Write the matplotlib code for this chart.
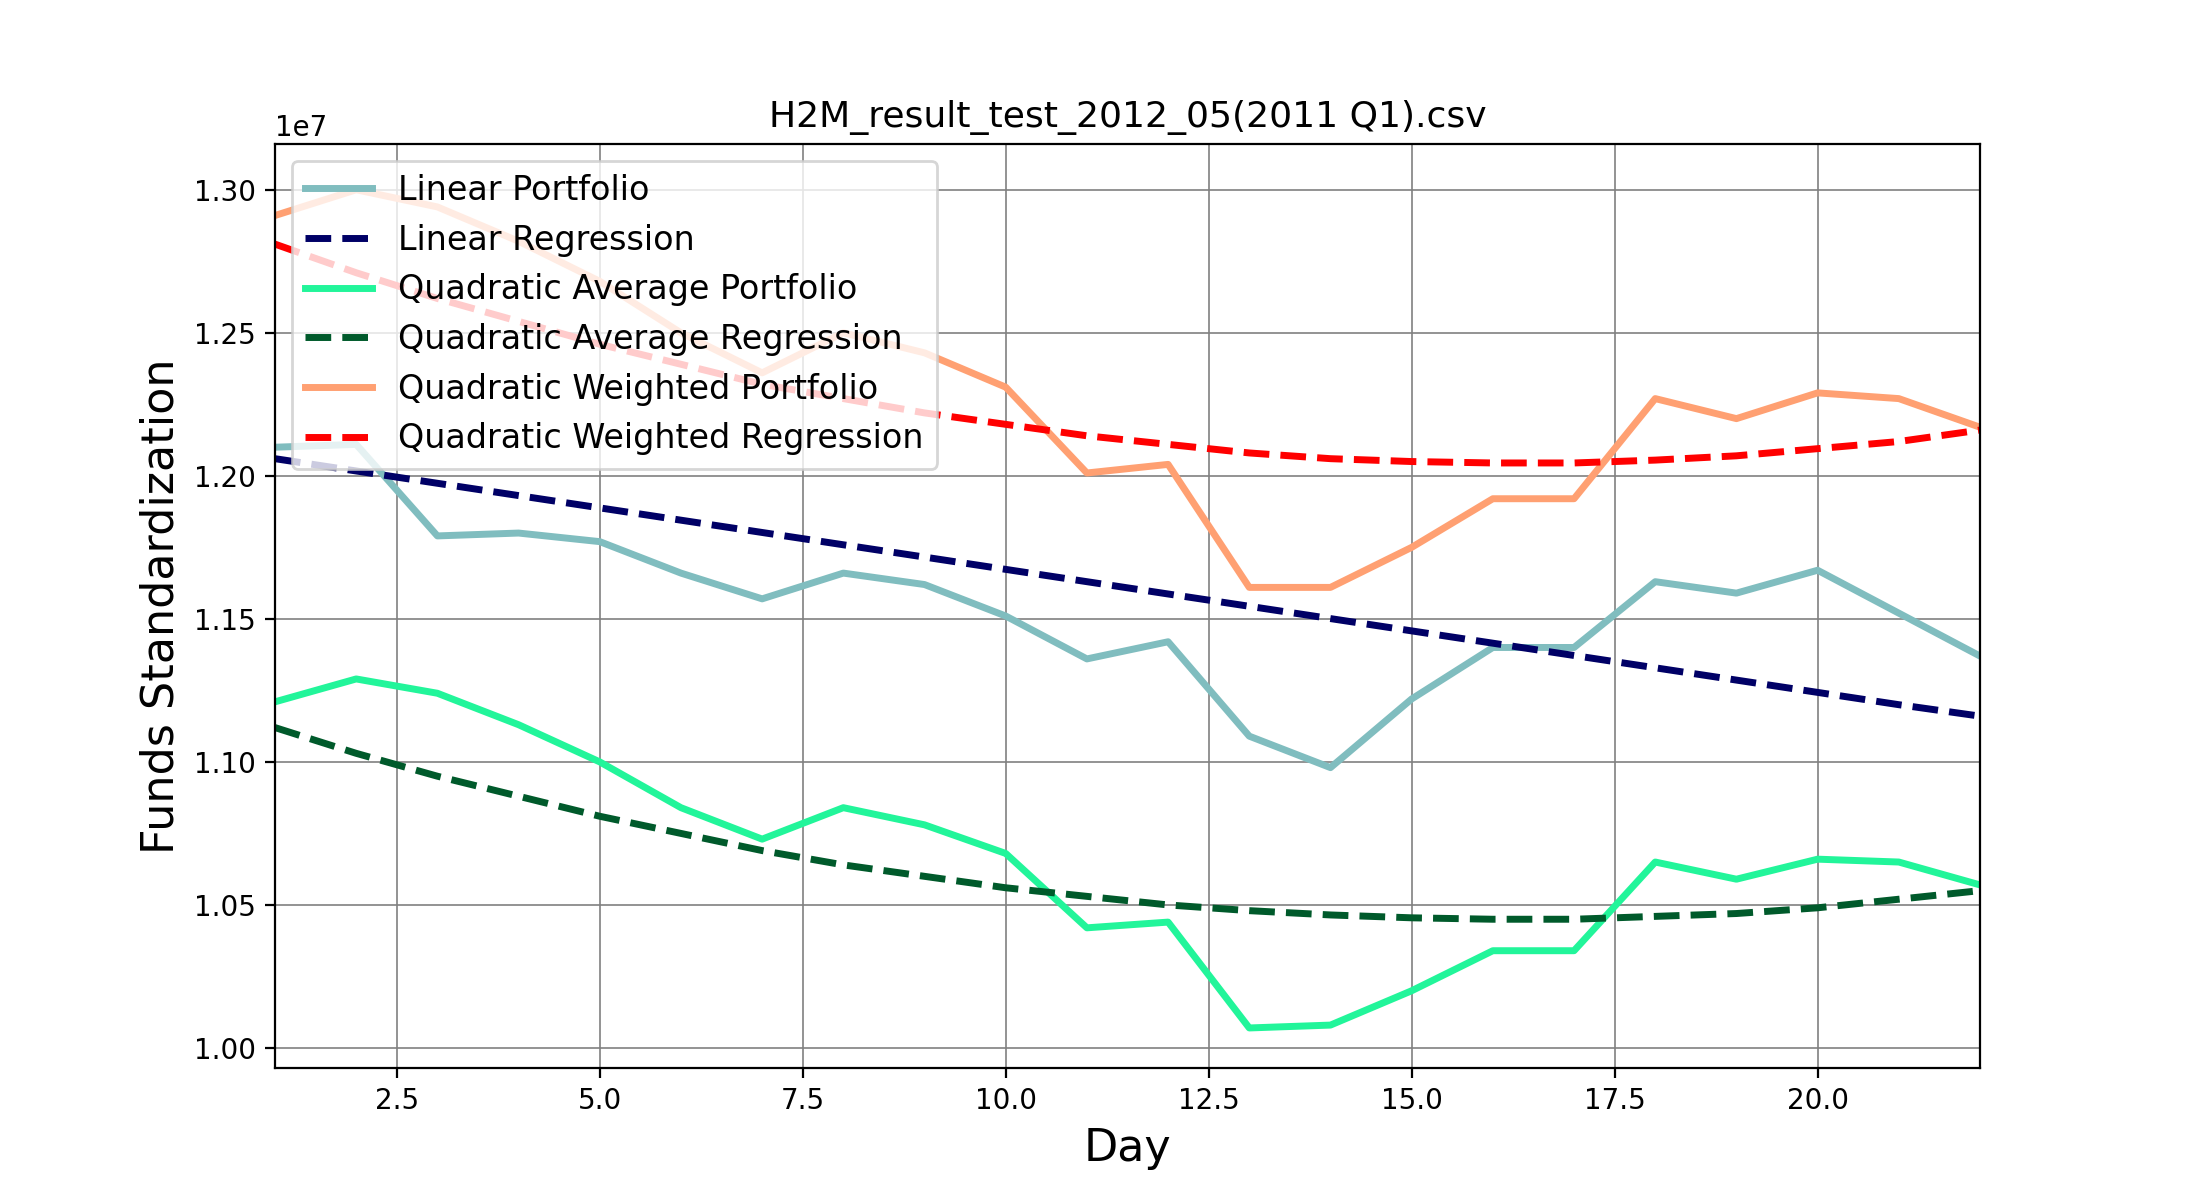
import numpy as np
import matplotlib
matplotlib.use("Agg")
import matplotlib.pyplot as plt

days = list(range(1, 23))
linear_portfolio = [1.210, 1.211, 1.179, 1.180, 1.177, 1.166, 1.157, 1.166, 1.162, 1.151, 1.136,
                    1.142, 1.109, 1.098, 1.122, 1.140, 1.140, 1.163, 1.159, 1.167, 1.152, 1.137]
linear_regression = [1.206, 1.2017, 1.1974, 1.1931, 1.1888, 1.1845, 1.1802, 1.1759, 1.1716, 1.1673, 1.1630,
                     1.1587, 1.1544, 1.1501, 1.1458, 1.1415, 1.1372, 1.1329, 1.1286, 1.1243, 1.1200, 1.1160]
quad_avg_portfolio = [1.121, 1.129, 1.124, 1.113, 1.100, 1.084, 1.073, 1.084, 1.078, 1.068, 1.042,
                      1.044, 1.007, 1.008, 1.020, 1.034, 1.034, 1.065, 1.059, 1.066, 1.065, 1.057]
quad_avg_regression = [1.112, 1.103, 1.095, 1.088, 1.081, 1.075, 1.069, 1.064, 1.060, 1.056, 1.053,
                       1.050, 1.048, 1.0465, 1.0455, 1.045, 1.045, 1.046, 1.047, 1.049, 1.052, 1.055]
quad_w_portfolio = [1.291, 1.300, 1.294, 1.282, 1.268, 1.250, 1.236, 1.250, 1.243, 1.231, 1.201,
                    1.204, 1.161, 1.161, 1.175, 1.192, 1.192, 1.227, 1.220, 1.229, 1.227, 1.217]
quad_w_regression = [1.281, 1.271, 1.262, 1.254, 1.246, 1.239, 1.232, 1.227, 1.222, 1.218, 1.214,
                     1.211, 1.208, 1.206, 1.205, 1.2045, 1.2045, 1.2055, 1.207, 1.2095, 1.212, 1.216]

scale = 1e7
fig, ax = plt.subplots(figsize=(11, 6), dpi=200)
series = [
    (linear_portfolio, "Linear Portfolio", "#80bdbf", "-"),
    (linear_regression, "Linear Regression", "#000066", "--"),
    (quad_avg_portfolio, "Quadratic Average Portfolio", "#22f59a", "-"),
    (quad_avg_regression, "Quadratic Average Regression", "#005a2b", "--"),
    (quad_w_portfolio, "Quadratic Weighted Portfolio", "#ffa072", "-"),
    (quad_w_regression, "Quadratic Weighted Regression", "#ff0000", "--"),
]
for vals, label, color, ls in series:
    ax.plot(days, np.array(vals) * scale, ls, color=color, lw=2.5, label=label)

ax.set_xlim(1, 22)
ax.set_ylim(0.993e7, 1.316e7)
ax.grid(True, color="gray", lw=0.6)
ax.set_title("H2M_result_test_2012_05(2011 Q1).csv", fontsize=13)
ax.set_xlabel("Day", fontsize=16)
ax.set_ylabel("Funds Standardization", fontsize=16)
ax.legend(loc="upper left", fontsize=12)
fig.savefig("out.png")
